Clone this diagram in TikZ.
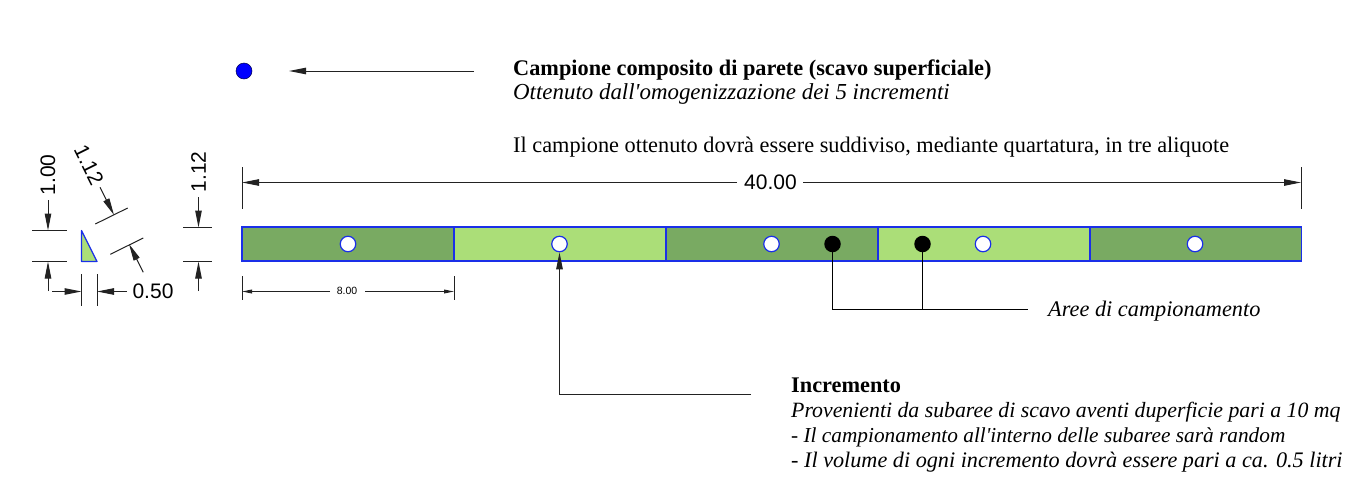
\documentclass[tikz,border=0pt]{standalone}
\usepackage{fontspec}
\newfontfamily\txtf{Liberation Serif}
\newfontfamily\dimf{Liberation Sans}
\usetikzlibrary{arrows.meta}
\definecolor{darkseg}{HTML}{79AA62}
\definecolor{lightseg}{HTML}{ABDE78}
\definecolor{segblue}{HTML}{1A2FE8}
\definecolor{dimgrey}{HTML}{222222}
\newcommand{\txtsize}[1]{\fontsize{#1}{24}\selectfont}
\tikzset{
  seg/.style={draw=segblue,line width=1.25pt},
  sample/.style={circle,draw=segblue,fill=white,line width=1.2pt,minimum size=15.5pt,inner sep=0pt},
  picked/.style={circle,fill=black,minimum size=16.5pt,inner sep=0pt},
  comp/.style={circle,draw=black!70!blue,fill=blue,line width=.5pt,minimum size=16pt,inner sep=0pt},
  dimline/.style={draw=dimgrey,line width=1pt},
  dimarrow/.style={dimline,-{Stealth[length=17pt,width=6.5pt,inset=0pt]}},
  smallarrow/.style={dimline,-{Stealth[length=10pt,width=3.8pt,inset=0pt]}},
  leader/.style={draw=black,line width=1pt},
  txt/.style={anchor=base west,inner sep=0pt,font=\txtf\txtsize{22.3}},
  dimtxt/.style={inner sep=0pt,font=\dimf\fontsize{21}{22}\selectfont},
}
\begin{document}
\begin{tikzpicture}[x=1pt,y=-1pt]
\useasboundingbox (0,0) rectangle (1356,482);
% strip
\path[fill=darkseg] (242,227) rectangle (454,261);
\path[fill=lightseg] (454,227) rectangle (666,261);
\path[fill=darkseg] (666,227) rectangle (878,261);
\path[fill=lightseg] (878,227) rectangle (1090,261);
\path[fill=darkseg] (1090,227) rectangle (1301.5,261);
\draw[seg] (242,227) rectangle (1301.5,261);
\draw[seg] (454,227)--(454,261) (666,227)--(666,261) (878,227)--(878,261) (1090,227)--(1090,261);
\node[sample] (s1) at (348,244) {};
\node[sample] (s2) at (559.5,244) {};
\node[sample] (s3) at (771.5,244) {};
\node[sample] (s4) at (983,244) {};
\node[sample] (s5) at (1195,244) {};
\node[picked] (p1) at (832.5,244) {};
\node[picked] (p2) at (922.5,244) {};
% composite
\node[comp] (comp) at (244,71) {};
\coordinate (compEnd) at (474,71);
\coordinate (compTip) at (289,71);
\draw[dimarrow] (compEnd) -- (compTip);
% texts
\node[txt] (t1) at (513,75.5) {\bfseries Campione composito di parete (scavo superficiale)};
\node[txt] (t2) at (513,99.5) {\itshape\txtsize{22.9}Ottenuto dall'omogenizzazione dei 5 incrementi};
\node[txt] (t3) at (513,152.5) {Il campione ottenuto dovrà essere suddiviso, mediante quartatura, in tre aliquote};
\node[txt] (t4) at (791,392) {\bfseries Incremento};
\node[txt] (t5) at (791,417.5) {\itshape\txtsize{21.8}Provenienti da subaree di scavo aventi duperficie pari a 10 mq};
\node[txt] (t6) at (791,442) {\itshape\txtsize{21.3}- Il campionamento all'interno delle subaree sarà random};
\node[txt] (t7) at (791,467.5) {\itshape\txtsize{22.2}- Il volume di ogni incremento dovrà essere pari a ca. 0.5 litri};
\node[txt] (t8) at (1048,316) {\itshape Aree di campionamento};
% leaders
\coordinate (incEnd) at (751,394.5);
\draw[dimarrow] (incEnd) -| (s2.south);
\coordinate (areaEnd) at (1028,309.5);
\coordinate (areaA) at (832.5,309.5);
\coordinate (areaB) at (922.5,309.5);
\draw[leader] (p1.center) -- (areaA) -- (areaEnd);
\draw[leader] (p2.center) -- (areaB);
% 40.00
\node[dimtxt] (d40) at (770.5,182) {40.00};
\coordinate (e40a) at (242,182.5);
\coordinate (e40b) at (1301,182.5);
\draw[dimline] (242,167)--(242,209) (1301,167)--(1301,209);
\draw[dimarrow] (737,182.5) -- (e40a);
\draw[dimarrow] (803,182.5) -- (e40b);
% 8.00
\node[inner sep=0pt,font=\dimf\fontsize{10.5}{12}\selectfont] (d8) at (347,291) {8.00};
\coordinate (e8a) at (242,291.5);
\coordinate (e8b) at (454,291.5);
\draw[dimline] (242,276)--(242,300) (454,276)--(454,300);
\draw[smallarrow] (330,291.5) -- (e8a);
\draw[smallarrow] (365,291.5) -- (e8b);
% triangle
\draw[seg,fill=lightseg,line join=round] (81.5,230.5) -- (81.5,261.5) -- (97,261.5) -- cycle;
% 1.00
\draw[dimline] (32,230.5)--(67,230.5) (32,261.5)--(67,261.5);
\node[dimtxt,rotate=90] (d100) at (48,175) {1.00};
\coordinate (a100a) at (48,230.5);
\coordinate (a100b) at (48,261.5);
\coordinate (a100c) at (48,291);
\draw[dimarrow] (48,200) -- (a100a);
\draw[dimarrow] (a100c) -- (a100b);
% 0.50
\draw[dimline] (81.5,274)--(81.5,306) (97,274)--(97,306);
\node[dimtxt] (d050) at (153,291) {0.50};
\coordinate (a050a) at (81.5,291.5);
\coordinate (a050b) at (97,291.5);
\draw[dimarrow] (52,291.5) -- (a050a);
\draw[dimarrow] (127,291.5) -- (a050b);
% 1.12 vertical
\draw[dimline] (183,227.5)--(212,227.5) (183,261.5)--(212,261.5);
\node[dimtxt,rotate=90] (d112) at (198.5,172) {1.12};
\coordinate (a112a) at (198.5,227.5);
\coordinate (a112b) at (198.5,261.5);
\coordinate (a112c) at (198.5,291);
\draw[dimarrow] (198.5,197) -- (a112a);
\draw[dimarrow] (a112c) -- (a112b);
% 1.12 diagonal
\draw[dimline] (95.3,224)--(127.7,208) (110.3,254.3)--(143.3,238);
\node[dimtxt,rotate=-63.5] (d112d) at (89,165) {1.12};
\coordinate (a113a) at (114,215);
\coordinate (a113b) at (129,244);
\draw[dimarrow] (100,187.3) -- (a113a);
\draw[dimarrow] (143.3,272.3) -- (a113b);
\end{tikzpicture}
\end{document}
